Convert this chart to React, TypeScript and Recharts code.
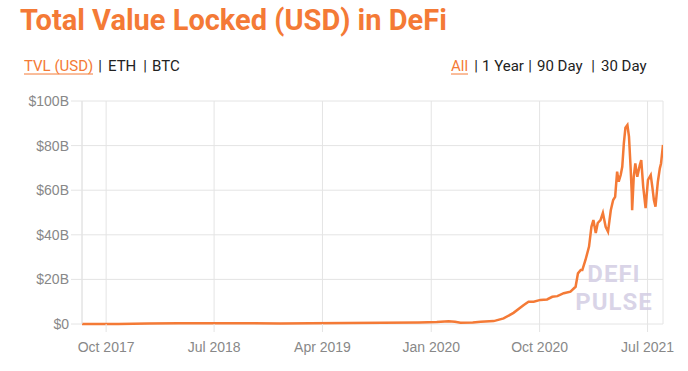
import React from 'react';
import { LineChart, Line, XAxis, YAxis, CartesianGrid } from 'recharts';

const dates = [
  '2017-08-01', '2017-11-01', '2018-01-15', '2018-04-01', '2018-07-01', '2018-10-01', '2018-12-15',
  '2019-03-01', '2019-06-01', '2019-09-01', '2019-12-01', '2020-01-15', '2020-02-14', '2020-03-01',
  '2020-03-15', '2020-04-15', '2020-05-05', '2020-06-07', '2020-07-02', '2020-07-27', '2020-08-22',
  '2020-09-03', '2020-09-16', '2020-10-03', '2020-10-20', '2020-11-02', '2020-11-15', '2020-12-01',
  '2020-12-18', '2020-12-31', '2021-01-06', '2021-01-13', '2021-01-17', '2021-01-25', '2021-02-03',
  '2021-02-09', '2021-02-14', '2021-02-20', '2021-02-25', '2021-03-04', '2021-03-10', '2021-03-17',
  '2021-03-23', '2021-03-30', '2021-04-05', '2021-04-10', '2021-04-15', '2021-04-19', '2021-04-24',
  '2021-04-28', '2021-05-02', '2021-05-06', '2021-05-11', '2021-05-15', '2021-05-19', '2021-05-22',
  '2021-05-23', '2021-05-27', '2021-05-31', '2021-06-05', '2021-06-11', '2021-06-15', '2021-06-20',
  '2021-06-26', '2021-07-02', '2021-07-09', '2021-07-13', '2021-07-17', '2021-07-21', '2021-07-27',
  '2021-08-01', '2021-08-04', '2021-08-09',
];

const tvlBillions = [
  0.01, 0.03, 0.2, 0.3, 0.3, 0.3, 0.25,
  0.35, 0.5, 0.6, 0.65, 0.85, 1.2, 1.0,
  0.55, 0.7, 1.0, 1.3, 2.5, 5.0, 8.5,
  10.0, 10.0, 10.8, 11.0, 12.2, 12.5, 13.8,
  14.5, 16.7, 22.7, 24.2, 24.2, 28.7, 34.7,
  43.6, 46.6, 40.8, 45.3, 46.6, 49.8, 43.6,
  41.4, 51.0, 55.6, 57.0, 68.3, 63.8, 66.8,
  70.5, 81.0, 88.0, 89.2, 84.0, 70.5, 58.7,
  51.0, 66.0, 72.0, 66.0, 71.0, 73.5, 61.5,
  52.0, 64.6, 66.8, 61.5, 55.6, 52.6, 63.8,
  69.8, 72.0, 80.3,
];

const tickDates = ['2017-10-01', '2018-07-01', '2019-04-01', '2020-01-01', '2020-10-01', '2021-07-01'];
const tickLabels = ['Oct 2017', 'Jul 2018', 'Apr 2019', 'Jan 2020', 'Oct 2020', 'Jul 2021'];
const yTicks = [0, 20, 40, 60, 80, 100];
const yLabels = ['$0', '$20B', '$40B', '$60B', '$80B', '$100B'];

const metricLinks = ['TVL (USD)', 'ETH', 'BTC'];
const rangeLinks = ['All', '1 Year', '90 Day', '30 Day'];

const domainStart = '2017-08-01';
const domainEnd = '2021-08-09';

const toTs = (d: string) => Date.parse(d + 'T00:00:00Z');
const data = dates.map((d, i) => ({ t: toTs(d), v: tvlBillions[i] }));
const xTicks = tickDates.map(toTs);

const ORANGE = '#f47a36';
const GRID = '#e4e4e4';
const FONT = 'Roboto, sans-serif';

// layout positions for the header link rows
const metricX = [24, 108, 152];
const metricPipeX = [100, 145];
const rangeX = [451, 482, 537, 601];
const rangePipeX = [476, 530, 593];

export default function App() {
  return (
    <div style={{ position: 'absolute', left: 0, top: 0, width: 688, height: 371, background: '#fff' }}>
      <LineChart
        width={688}
        height={371}
        data={data}
        margin={{ top: 101, right: 25, bottom: 17, left: 0 }}
      >
        <CartesianGrid stroke={GRID} strokeWidth={1} />
        <XAxis
          dataKey="t"
          type="number"
          domain={[toTs(domainStart), toTs(domainEnd)]}
          ticks={xTicks}
          tickFormatter={(v: number) => tickLabels[xTicks.indexOf(v)]}
          axisLine={false}
          tickLine={{ stroke: GRID }}
          tickSize={8}
          tickMargin={10}
          height={30}
          tick={{ fill: '#888', fontSize: 14, fontFamily: 'Liberation Sans, Arial, sans-serif' }}
          allowDataOverflow
        />
        <YAxis
          type="number"
          domain={[0, 100]}
          ticks={yTicks}
          tickFormatter={(v: number) => yLabels[yTicks.indexOf(v)]}
          axisLine={{ stroke: GRID }}
          tickLine={{ stroke: GRID }}
          tickSize={11}
          tickMargin={2}
          width={82}
          tick={{ fill: '#888', fontSize: 14, fontFamily: 'Liberation Sans, Arial, sans-serif' }}
        />
        <Line
          type="linear"
          dataKey="v"
          stroke={ORANGE}
          strokeWidth={2.5}
          dot={false}
          isAnimationActive={false}
        />
      </LineChart>
      <svg
        width={688}
        height={371}
        style={{ position: 'absolute', left: 0, top: 0, pointerEvents: 'none' }}
      >
        <text x={20} y={30} fill={ORANGE} fontSize={29} fontWeight={700} fontFamily={FONT}>
          Total Value Locked (USD) in DeFi
        </text>
        {metricLinks.map((s, i) => (
          <text key={s} x={metricX[i]} y={71} fontSize={15} fontFamily={FONT} fill={i === 0 ? ORANGE : '#222'}>
            {s}
          </text>
        ))}
        {metricPipeX.map((x) => (
          <text key={x} x={x} y={71} textAnchor="middle" fontSize={15} fontFamily={FONT} fill="#222">|</text>
        ))}
        <line x1={24} x2={93} y1={74} y2={74} stroke={ORANGE} strokeWidth={1} />
        {rangeLinks.map((s, i) => (
          <text key={s} x={rangeX[i]} y={71} fontSize={15} fontFamily={FONT} fill={i === 0 ? ORANGE : '#222'}>
            {s}
          </text>
        ))}
        {rangePipeX.map((x) => (
          <text key={x} x={x} y={71} textAnchor="middle" fontSize={15} fontFamily={FONT} fill="#222">|</text>
        ))}
        <line x1={451} x2={468} y1={74} y2={74} stroke={ORANGE} strokeWidth={1} />
        <text x={614} y={282} textAnchor="middle" fontSize={24} fontWeight={700} letterSpacing={1}
          fontFamily={FONT} fill="#d3cde3" fillOpacity={0.85}>
          DEFI
        </text>
        <text x={614} y={310} textAnchor="middle" fontSize={24} fontWeight={700} letterSpacing={1}
          fontFamily={FONT} fill="#d3cde3" fillOpacity={0.85}>
          PULSE
        </text>
      </svg>
    </div>
  );
}
